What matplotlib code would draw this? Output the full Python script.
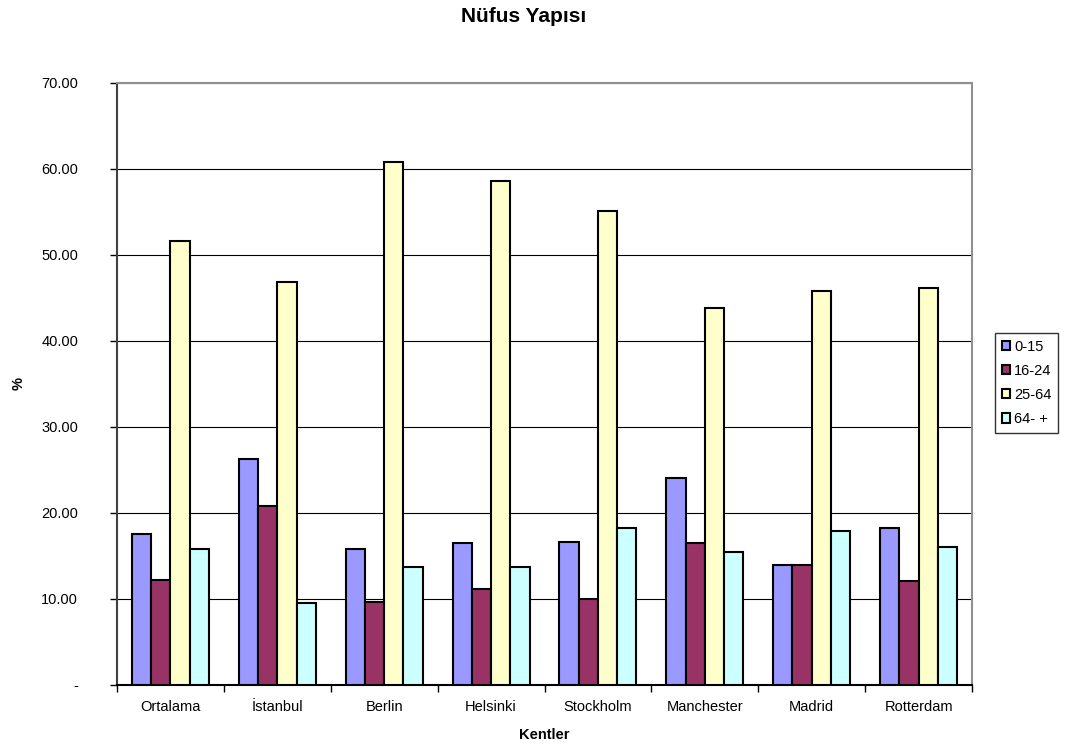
import matplotlib
matplotlib.use("Agg")
import matplotlib.pyplot as plt
import numpy as np
from matplotlib.ticker import FixedLocator

plt.rcParams['font.family'] = ['Liberation Sans', 'DejaVu Sans']

categories = ["Ortalama", "İstanbul", "Berlin", "Helsinki", "Stockholm", "Manchester", "Madrid", "Rotterdam"]
series_names = ["0-15", "16-24", "25-64", "64- +"]
v_0_15 = [17.6, 26.3, 15.8, 16.5, 16.6, 24.1, 13.9, 18.2]
v_16_24 = [12.2, 20.8, 9.7, 11.2, 10.0, 16.5, 14.0, 12.1]
v_25_64 = [51.6, 46.9, 60.8, 58.6, 55.1, 43.8, 45.8, 46.2]
v_64p = [15.8, 9.5, 13.7, 13.7, 18.3, 15.5, 17.9, 16.0]
yticks = [0, 10, 20, 30, 40, 50, 60, 70]
ytick_labels = ["-", "10.00", "20.00", "30.00", "40.00", "50.00", "60.00", "70.00"]
colors = ["#9999FF", "#993366", "#FFFFCC", "#CCFFFF"]

fs = 10.5
fig = plt.figure(figsize=(10.83, 7.47), dpi=100)
ax = fig.add_axes([117/1083, 62/747, (972-117)/1083, (685-83)/747])

x = np.arange(len(categories))
bw = 0.18
series = [v_0_15, v_16_24, v_25_64, v_64p]
for i, (vals, c, name) in enumerate(zip(series, colors, series_names)):
    ax.bar(x + (i - 1.5) * bw, vals, width=bw, color=c, edgecolor="black",
           linewidth=1.5, label=name, zorder=3)

ax.set_xlim(-0.5, len(categories) - 0.5)
ax.set_ylim(0, 70)
ax.set_yticks(yticks)
ax.set_yticklabels(ytick_labels, fontsize=fs)
ax.set_xticks(x)
ax.set_xticklabels(categories, fontsize=fs)
ax.tick_params(axis='x', length=0, pad=11)
ax.xaxis.set_minor_locator(FixedLocator(np.arange(-0.5, len(categories), 1.0)))
ax.tick_params(axis='x', which='minor', length=5, direction='out', width=1, color='black')
ax.tick_params(axis='y', length=5, direction='out', width=1, pad=23)

ax.grid(axis='y', color='black', linewidth=0.8, zorder=0)
ax.set_axisbelow(True)
ax.spines['left'].set_color('#404040')
ax.spines['left'].set_linewidth(1.5)
ax.spines['bottom'].set_color('black')
ax.spines['bottom'].set_linewidth(1.5)
ax.spines['top'].set_color('#909090')
ax.spines['top'].set_linewidth(1.5)
ax.spines['right'].set_color('#909090')
ax.spines['right'].set_linewidth(1.5)

ax.set_xlabel("Kentler", fontsize=fs, fontweight='bold', va='center')
ax.xaxis.set_label_coords(0.5, (685 - 735) / 602)
ax.set_ylabel("%", fontsize=fs, fontweight='bold', va='center')
ax.yaxis.set_label_coords((19 - 117) / 855, 0.5)
fig.text(524/1083, 1 - 16/747, "Nüfus Yapısı", fontsize=15, fontweight='bold',
         ha='center', va='center')

leg = fig.legend(loc='upper left', bbox_to_anchor=(995/1083, 1 - 333/747), fontsize=fs,
                 frameon=True, fancybox=False, edgecolor='black', handlelength=0.6,
                 handleheight=0.6, handletextpad=0.25, labelspacing=0.7, borderpad=0.45,
                 borderaxespad=0)
leg.get_frame().set_linewidth(1.0)
for p in leg.get_patches():
    p.set_linewidth(1.5)

fig.savefig("out.png", dpi=100, facecolor='white')
